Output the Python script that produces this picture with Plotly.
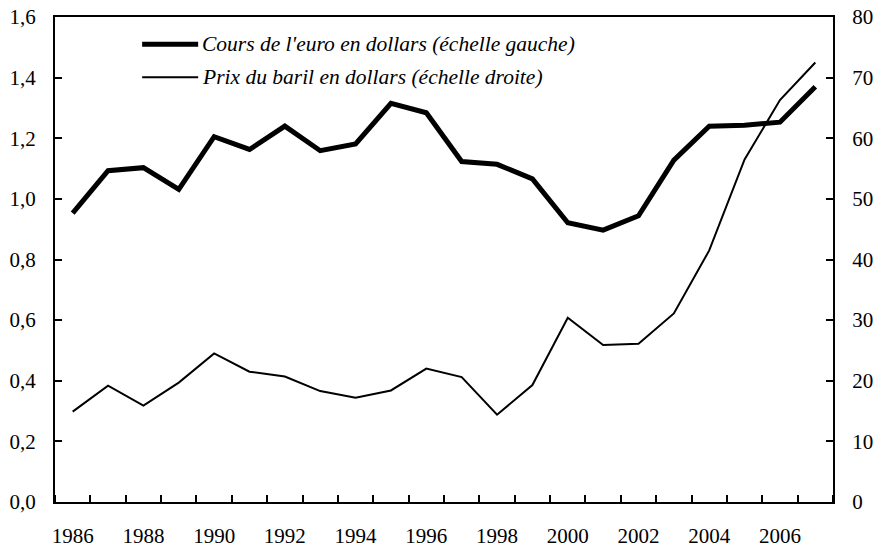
import plotly.graph_objects as go

years = list(range(1986, 2008))
euro_usd = [0.953, 1.093, 1.103, 1.031, 1.205, 1.163, 1.240, 1.159, 1.181, 1.315, 1.284,
            1.123, 1.114, 1.066, 0.921, 0.897, 0.944, 1.128, 1.240, 1.243, 1.253, 1.370]
oil_usd = [14.9, 19.2, 15.9, 19.7, 24.5, 21.5, 20.7, 18.3, 17.2, 18.4, 22.0,
           20.6, 14.4, 19.3, 30.4, 25.9, 26.1, 31.1, 41.5, 56.5, 66.3, 72.5]
xlabels = list(range(1986, 2008, 2))

name_euro = "Cours de l'euro en dollars (échelle gauche)"
name_oil = "Prix du baril en dollars (échelle droite)"

font_family = "Liberation Serif, Times New Roman, serif"

fig = go.Figure()
fig.add_trace(go.Scatter(x=years, y=euro_usd, mode="lines", name=name_euro,
                         line=dict(color="black", width=5), yaxis="y"))
fig.add_trace(go.Scatter(x=years, y=oil_usd, mode="lines", name=name_oil,
                         line=dict(color="black", width=2), yaxis="y2"))

# manual legend (paper coordinates)
legend_items = [(name_euro, 5, 0.944), (name_oil, 2, 0.876)]
for label, w, yy in legend_items:
    fig.add_shape(type="line", xref="paper", yref="paper", x0=0.112, x1=0.184, y0=yy, y1=yy,
                  line=dict(color="black", width=w))
    fig.add_annotation(xref="paper", yref="paper", x=0.187, y=yy, text=label, showarrow=False,
                       xanchor="left", yanchor="middle",
                       font=dict(size=21.5, style="italic", family=font_family, color="black"))

fig.update_layout(
    width=882, height=550,
    margin=dict(l=55, r=49, t=17, b=48),
    paper_bgcolor="white", plot_bgcolor="white",
    separators=", ",
    font=dict(family=font_family, size=21, color="black"),
    showlegend=False,
    xaxis=dict(range=[1985.5, 2007.5], tickvals=xlabels, ticktext=[str(v) for v in xlabels],
               ticks="", showgrid=False, zeroline=False, automargin=False,
               showline=True, linecolor="black", linewidth=2, mirror=True,
               ticklabelstandoff=14, ticklabeloverflow="allow",
               minor=dict(tick0=1985.5, dtick=1, ticks="inside", ticklen=7,
                          tickcolor="black", tickwidth=2, showgrid=False)),
    yaxis=dict(range=[0, 1.6], tickvals=[0, 0.2, 0.4, 0.6, 0.8, 1.0, 1.2, 1.4, 1.6],
               tickformat=".1f", ticks="inside", ticklen=7, tickwidth=2, tickcolor="black",
               showgrid=False, zeroline=False, showline=True, linecolor="black", automargin=False,
               linewidth=2, ticklabelstandoff=13, ticklabeloverflow="allow"),
    yaxis2=dict(range=[0, 80], tickvals=[0, 10, 20, 30, 40, 50, 60, 70, 80],
                overlaying="y", side="right", ticks="inside", ticklen=7, tickwidth=2,
                tickcolor="black", showgrid=False, zeroline=False, showline=True, automargin=False,
                linecolor="black", linewidth=2, ticklabelstandoff=13, ticklabeloverflow="allow"),
)

fig.write_html("out.html", config={"displayModeBar": False},
               post_script="document.body.style.margin='0';")
